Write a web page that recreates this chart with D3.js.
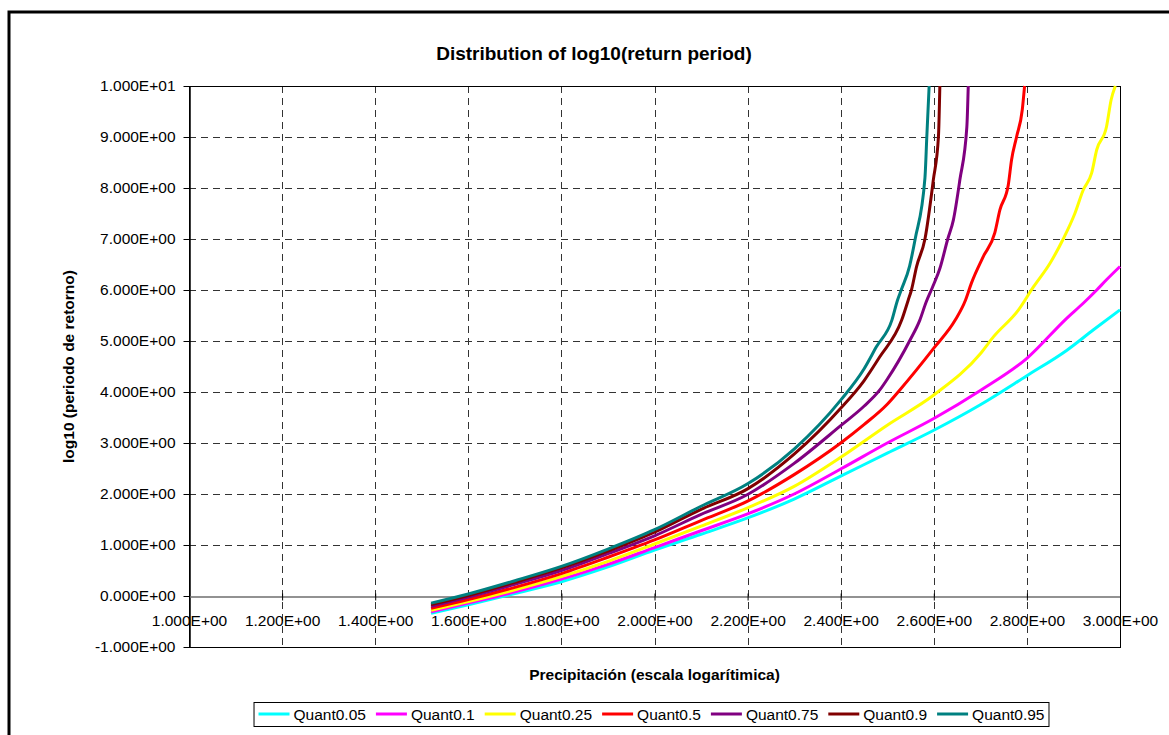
<!DOCTYPE html>
<html>
<head>
<meta charset="utf-8">
<script src="https://cdn.jsdelivr.net/npm/d3@7.9.0/dist/d3.min.js"></script>
<style>
  body { margin: 0; background: #fff; }
  svg { display: block; font-family: Arial, "Liberation Sans", sans-serif; }
</style>
</head>
<body>
<svg id="chart" width="1169" height="735"></svg>
<script>
// series: [log precipitation, log10 return period]
const q005 = [[1.52,-0.34],[1.6,-0.17],[1.7,0.05],[1.8,0.28],[1.9,0.57],[2.0,0.90],[2.1,1.21],[2.2,1.53],[2.3,1.90],[2.4,2.35],[2.5,2.80],[2.6,3.25],[2.7,3.75],[2.8,4.32],[2.886,4.82],[2.943,5.22],[3.0,5.61]];
const q010 = [[1.52,-0.31],[1.6,-0.14],[1.7,0.08],[1.8,0.33],[1.9,0.62],[2.0,0.95],[2.1,1.28],[2.2,1.61],[2.3,2.0],[2.4,2.49],[2.5,3.0],[2.6,3.48],[2.7,4.03],[2.8,4.66],[2.886,5.45],[2.921,5.74],[2.95,6.0],[2.971,6.2],[3.0,6.46]];
const q025 = [[1.52,-0.28],[1.6,-0.11],[1.7,0.12],[1.8,0.38],[1.9,0.68],[2.0,1.02],[2.1,1.37],[2.2,1.73],[2.3,2.15],[2.4,2.72],[2.5,3.35],[2.6,3.94],[2.7,4.75],[2.728,5.08],[2.782,5.61],[2.814,6.06],[2.85,6.53],[2.878,7.0],[2.903,7.5],[2.921,7.96],[2.939,8.29],[2.95,8.75],[2.971,9.2],[2.981,9.73],[2.99,10.0]];
const q050 = [[1.52,-0.24],[1.6,-0.07],[1.7,0.17],[1.8,0.44],[1.9,0.76],[2.0,1.10],[2.1,1.48],[2.2,1.86],[2.3,2.38],[2.4,3.0],[2.45,3.36],[2.5,3.76],[2.527,4.04],[2.6,4.86],[2.646,5.41],[2.668,5.80],[2.681,6.14],[2.706,6.65],[2.731,7.12],[2.742,7.57],[2.76,8.06],[2.767,8.55],[2.778,9.01],[2.79,9.53],[2.795,10.0]];
const q075 = [[1.52,-0.20],[1.6,-0.02],[1.7,0.23],[1.8,0.50],[1.9,0.83],[2.0,1.18],[2.1,1.60],[2.2,1.99],[2.3,2.60],[2.4,3.34],[2.45,3.72],[2.484,4.04],[2.5,4.25],[2.549,5.02],[2.57,5.41],[2.583,5.75],[2.597,6.05],[2.613,6.42],[2.63,7.0],[2.642,7.37],[2.656,8.16],[2.671,9.2],[2.674,10.0]];
const q090 = [[1.52,-0.17],[1.6,0.01],[1.7,0.27],[1.8,0.55],[1.9,0.88],[2.0,1.25],[2.1,1.70],[2.2,2.10],[2.3,2.78],[2.4,3.68],[2.45,4.22],[2.484,4.69],[2.531,5.41],[2.545,5.80],[2.552,6.0],[2.563,6.46],[2.581,7.0],[2.599,8.16],[2.61,9.01],[2.613,10.0]];
const q095 = [[1.52,-0.14],[1.6,0.04],[1.7,0.30],[1.8,0.58],[1.9,0.92],[2.0,1.30],[2.1,1.76],[2.2,2.20],[2.3,2.88],[2.4,3.84],[2.45,4.45],[2.477,4.89],[2.51,5.41],[2.522,5.80],[2.53,6.0],[2.548,6.47],[2.56,7.0],[2.581,8.2],[2.585,9.01],[2.59,10.0]];

const seriesNames = ["Quant0.05", "Quant0.1", "Quant0.25", "Quant0.5", "Quant0.75", "Quant0.9", "Quant0.95"];
const seriesData = [q005, q010, q025, q050, q075, q090, q095];
const seriesColors = ["#00FFFF", "#FF00FF", "#FFFF00", "#FF0000", "#800080", "#800000", "#008080"];

const xTicks = [1.0, 1.2, 1.4, 1.6, 1.8, 2.0, 2.2, 2.4, 2.6, 2.8, 3.0];
const yTicks = [-1, 0, 1, 2, 3, 4, 5, 6, 7, 8, 9, 10];

const title = "Distribution of log10(return period)";
const xTitle = "Precipitación (escala logarítimica)";
const yTitle = "log10 (periodo de retorno)";

// Excel style 0.000E+00
function sci(v) {
  const [m, e] = v.toExponential(3).split("e");
  const n = Math.abs(+e);
  return m + "E" + (+e < 0 ? "-" : "+") + (n < 10 ? "0" + n : n);
}

const svg = d3.select("#chart");
const plot = { left: 189, right: 1120, top: 86, bottom: 647 };

const x = d3.scaleLinear().domain([1, 3]).range([plot.left, plot.right]);
const y = d3.scaleLinear().domain([-1, 10]).range([plot.bottom, plot.top]);

// outer chart border (cut off at right/bottom like the picture)
svg.append("rect")
  .attr("x", 9).attr("y", 12)
  .attr("width", 1300).attr("height", 900)
  .attr("fill", "none").attr("stroke", "#000").attr("stroke-width", 3);

// gridlines
const grid = svg.append("g").attr("stroke", "#333").attr("stroke-width", 1)
  .attr("stroke-dasharray", "7,5").attr("shape-rendering", "crispEdges");
grid.selectAll("line.v").data(xTicks.filter(d => d > 1 && d < 3)).join("line")
  .attr("class", "v")
  .attr("x1", d => Math.round(x(d)) + 0.5).attr("x2", d => Math.round(x(d)) + 0.5)
  .attr("y1", plot.top).attr("y2", plot.bottom);
grid.selectAll("line.h").data(yTicks.filter(d => d > 0 && d < 10)).join("line")
  .attr("class", "h")
  .attr("y1", d => Math.round(y(d)) + 0.5).attr("y2", d => Math.round(y(d)) + 0.5)
  .attr("x1", plot.left).attr("x2", plot.right);

// plot area border
svg.append("rect")
  .attr("x", plot.left + 0.5).attr("y", plot.top + 0.5)
  .attr("width", plot.right - plot.left).attr("height", plot.bottom - plot.top)
  .attr("fill", "none").attr("stroke", "#000").attr("stroke-width", 1.2)
  .attr("shape-rendering", "crispEdges");

// y axis on the left
const yAxis = d3.axisLeft(y).tickValues(yTicks).tickFormat(sci).tickSize(6).tickSizeOuter(0).tickPadding(8);
const gy = svg.append("g").attr("transform", `translate(${plot.left + 0.5},0)`).call(yAxis);
gy.select(".domain").attr("stroke", "#000").attr("stroke-width", 1.5);
gy.selectAll(".tick line").attr("stroke", "#000");
gy.selectAll(".tick text").attr("font-size", "15.5px").attr("fill", "#000")
  .attr("font-family", "Arial, 'Liberation Sans', sans-serif");

// x axis crossing at y = 0
const xAxis = d3.axisBottom(x).tickValues(xTicks).tickFormat(sci).tickSize(0).tickPadding(18);
const gx = svg.append("g").attr("transform", `translate(0,${Math.round(y(0)) + 0.5})`).call(xAxis);
gx.select(".domain").attr("stroke", "#6e6e6e").attr("stroke-width", 1.3);
gx.selectAll(".tick line").attr("y1", -3).attr("y2", 4).attr("stroke", "#000");
gx.selectAll(".tick text").attr("font-size", "15.5px").attr("fill", "#000")
  .attr("font-family", "Arial, 'Liberation Sans', sans-serif");

// series lines
const line = d3.line().x(d => x(d[0])).y(d => y(d[1])).curve(d3.curveMonotoneX);
svg.append("g").selectAll("path").data(seriesData).join("path")
  .attr("d", line)
  .attr("fill", "none")
  .attr("stroke", (d, i) => seriesColors[i])
  .attr("stroke-width", 3)
  .attr("stroke-linejoin", "round");

// titles
svg.append("text").attr("x", 594).attr("y", 60).attr("text-anchor", "middle")
  .attr("font-size", "19px").attr("font-weight", "bold").text(title);
svg.append("text").attr("x", (plot.left + plot.right) / 2).attr("y", 680).attr("text-anchor", "middle")
  .attr("font-size", "15.5px").attr("font-weight", "bold").text(xTitle);
svg.append("text").attr("transform", `translate(74,${(plot.top + plot.bottom) / 2}) rotate(-90)`)
  .attr("text-anchor", "middle")
  .attr("font-size", "15.5px").attr("font-weight", "bold").text(yTitle);

// legend
const legend = svg.append("g");
const legendBox = legend.append("rect").attr("fill", "#fff").attr("stroke", "#000").attr("stroke-width", 1);
let lx = 0;
seriesNames.forEach((name, i) => {
  const it = legend.append("g").attr("transform", `translate(${lx},0)`);
  it.append("line").attr("x1", 0).attr("x2", 31).attr("y1", 0).attr("y2", 0)
    .attr("stroke", seriesColors[i]).attr("stroke-width", 3);
  const t = it.append("text").attr("x", 35).attr("y", 5.5).attr("font-size", "15.5px").text(name);
  lx += 35 + t.node().getComputedTextLength() + 10;
});
const legendW = lx - 10;
const legendCx = 651.5, legendCy = 714;
legend.attr("transform", `translate(${legendCx - legendW / 2},${legendCy})`);
legendBox.attr("x", -4.5).attr("y", -11.5).attr("width", legendW + 9).attr("height", 24);
</script>
</body>
</html>
